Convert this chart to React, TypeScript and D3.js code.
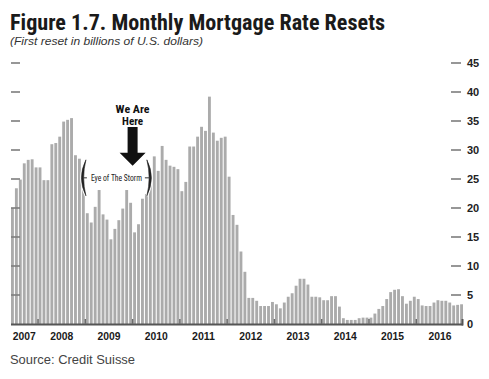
import React from 'react';
import * as d3 from 'd3';

// ---- Data (billions of U.S. dollars, first reset per month) ----
const years = ['2007', '2008', '2009', '2010', '2011', '2012', '2013', '2014', '2015', '2016'];
const v2007 = [20.0, 23.4, 24.9, 27.7, 28.3, 28.4, 27.0]; // Jun–Dec
const v2008 = [27.0, 24.8, 24.8, 31.0, 31.2, 32.3, 34.9, 35.2, 35.5, 29.1, 28.5, 24.0];
const v2009 = [19.1, 17.5, 20.2, 23.1, 18.9, 18.0, 14.6, 16.4, 17.9, 19.9, 23.1, 20.9];
const v2010 = [15.8, 17.2, 21.6, 22.4, 25.0, 28.9, 26.4, 30.7, 28.3, 27.3, 27.1, 26.7];
const v2011 = [22.9, 24.5, 30.6, 30.6, 32.3, 34.0, 33.3, 39.2, 33.0, 31.6, 32.1, 32.3];
const v2012 = [25.4, 18.8, 17.1, 12.5, 9.0, 4.5, 4.5, 4.0, 3.1, 3.1, 3.1, 3.8];
const v2013 = [3.4, 2.7, 3.7, 4.7, 5.3, 6.6, 7.8, 7.8, 6.8, 4.7, 4.7, 4.6];
const v2014 = [4.1, 4.1, 4.8, 4.8, 3.0, 1.0, 0.7, 0.7, 0.7, 1.0, 1.1, 1.1];
const v2015 = [1.1, 1.8, 2.6, 3.1, 4.3, 5.5, 5.9, 6.0, 4.8, 3.5, 4.0, 4.7];
const v2016 = [4.3, 3.2, 3.1, 3.1, 3.7, 4.1, 4.0, 4.0, 3.7, 3.2, 3.3, 3.4];
const yTicks = [0, 5, 10, 15, 20, 25, 30, 35, 40, 45];

const TITLE = 'Figure 1.7. Monthly Mortgage Rate Resets';
const SUBTITLE = '(First reset in billions of U.S. dollars)';
const SOURCE = 'Source: Credit Suisse';

const yearSeries = [v2007, v2008, v2009, v2010, v2011, v2012, v2013, v2014, v2015, v2016];

type Bar = { key: string; year: string; value: number; idx: number };
const bars: Bar[] = [];
yearSeries.forEach((arr, yi) => {
  arr.forEach((v, mi) => {
    bars.push({ key: `${years[yi]}-${mi}`, year: years[yi], value: v, idx: bars.length });
  });
});

const W = 489;
const H = 379;
const X0 = 11;
const X1 = 463;
const Y0 = 324;
const Y1 = 63;

const COND = '"Liberation Sans Narrow", "Roboto Condensed", "Liberation Sans", Arial, sans-serif';
const SANS = '"Liberation Sans", Arial, Helvetica, sans-serif';

export default function App() {
  const x = d3
    .scaleBand<string>()
    .domain(bars.map((b) => b.key))
    .range([X0, X1])
    .paddingInner(0.27)
    .paddingOuter(0);
  const y = d3.scaleLinear().domain([0, 45]).range([Y0, Y1]);
  const step = x.step();
  const gap = step - x.bandwidth();

  // year boundaries and label positions
  const yearInfo = years.map((yr) => {
    const ys = bars.filter((b) => b.year === yr);
    const start = (x(ys[0].key) as number) - gap / 2;
    const end = (x(ys[ys.length - 1].key) as number) + x.bandwidth() + gap / 2;
    return { yr, start, end, center: (start + end) / 2 };
  });

  // Annotation anchors derived from scales
  const arrowX = yearInfo[3].start;
  const arrowTip = y(27.3);
  const eyeLeft = (x(bars[18].key) as number) + 1;
  const eyeRight = (x(bars[35].key) as number) + 1;
  const eyeMid = (eyeLeft + eyeRight) / 2;
  const eyeY = y(25.2);
  const bh = 18; // half bracket height

  const bracketL = (bx: number) =>
    `M${bx + 3},${eyeY - bh} Q${bx - 6},${eyeY} ${bx + 3},${eyeY + bh} Q${bx - 1.5},${eyeY} ${bx + 3},${eyeY - bh} Z`;
  const bracketR = (bx: number) =>
    `M${bx - 3},${eyeY - bh} Q${bx + 6},${eyeY} ${bx - 3},${eyeY + bh} Q${bx + 1.5},${eyeY} ${bx - 3},${eyeY - bh} Z`;

  return (
    <svg
      width={W}
      height={H}
      viewBox={`0 0 ${W} ${H}`}
      style={{ position: 'absolute', left: 0, top: 0, display: 'block', background: '#fff' }}
    >
      <rect x={0} y={0} width={W} height={H} fill="#fff" />
      {/* Title */}
      <text
        x={10}
        y={29.5}
        fontFamily={COND}
        fontWeight="bold"
        fontSize={21.5}
        fill="#1a1a1a"
        textLength={375}
        lengthAdjust="spacingAndGlyphs"
      >
        {TITLE}
      </text>
      <text
        x={10}
        y={44.5}
        fontFamily={SANS}
        fontStyle="italic"
        fontSize={10.5}
        fill="#333"
        textLength={193}
        lengthAdjust="spacingAndGlyphs"
      >
        {SUBTITLE}
      </text>

      {/* Bars */}
      {bars.map((b) => (
        <rect
          key={b.key}
          x={x(b.key)}
          y={y(b.value)}
          width={x.bandwidth()}
          height={Y0 - y(b.value)}
          fill="#ababab"
        />
      ))}

      {/* Left dashes */}
      {yTicks
        .filter((t) => t > 0)
        .map((t) => (
          <line key={`l${t}`} x1={11} x2={20} y1={y(t)} y2={y(t)} stroke="#7d7d7d" strokeWidth={1.6} />
        ))}
      {/* Right dashes and labels */}
      {yTicks
        .filter((t) => t > 0)
        .map((t) => (
          <line key={`r${t}`} x1={451} x2={461} y1={y(t)} y2={y(t)} stroke="#7d7d7d" strokeWidth={1.6} />
        ))}
      {yTicks.map((t) => (
        <text
          key={`rt${t}`}
          x={467}
          y={y(t)}
          dy="0.36em"
          fontFamily={SANS}
          fontWeight="bold"
          fontSize={11}
          fill="#222"
        >
          {t}
        </text>
      ))}

      {/* X axis */}
      <line x1={X0} x2={X1} y1={Y0 + 0.5} y2={Y0 + 0.5} stroke="#555" strokeWidth={2} />
      <line x1={X1 - 0.5} x2={X1 - 0.5} y1={Y0 - 5} y2={Y0 + 1.5} stroke="#555" strokeWidth={2} />
      {yearInfo.slice(1).map((yi) => (
        <line
          key={`yt${yi.yr}`}
          x1={yi.start}
          x2={yi.start}
          y1={Y0 - 5}
          y2={Y0}
          stroke="#6b6b6b"
          strokeWidth={1.5}
        />
      ))}
      {yearInfo.map((yi, i) => {
        const w = 23;
        const cx = i === 0 ? Math.max(yi.center, X0 + w / 2) : yi.center;
        return (
          <text
            key={`yl${yi.yr}`}
            x={cx - w / 2}
            y={340}
            fontFamily={SANS}
            fontWeight="bold"
            fontSize={11}
            fill="#1a1a1a"
            textLength={w}
            lengthAdjust="spacingAndGlyphs"
          >
            {yi.yr}
          </text>
        );
      })}

      {/* Source */}
      <text
        x={10}
        y={364}
        fontFamily={SANS}
        fontSize={13}
        fill="#444"
        textLength={125}
        lengthAdjust="spacingAndGlyphs"
      >
        {SOURCE}
      </text>

      {/* We Are Here */}
      <text
        x={arrowX - 17}
        y={112.5}
        fontFamily={COND}
        fontWeight="bold"
        fontSize={11}
        fill="#111"
        textLength={34}
        lengthAdjust="spacingAndGlyphs"
      >
        We Are
      </text>
      <text
        x={arrowX - 10.5}
        y={125}
        fontFamily={COND}
        fontWeight="bold"
        fontSize={11}
        fill="#111"
        textLength={21}
        lengthAdjust="spacingAndGlyphs"
      >
        Here
      </text>
      <path
        d={`M${arrowX - 5},127 L${arrowX + 5},127 L${arrowX + 5},${arrowTip - 13} L${arrowX + 13},${arrowTip - 13} L${arrowX},${arrowTip} L${arrowX - 13},${arrowTip - 13} L${arrowX - 5},${arrowTip - 13} Z`}
        fill="#111"
      />

      {/* Eye of The Storm */}
      <path d={bracketL(eyeLeft)} fill="#fff" stroke="#fff" strokeWidth={2.5} />
      <path d={bracketR(eyeRight)} fill="#fff" stroke="#fff" strokeWidth={2.5} />
      <path d={bracketL(eyeLeft)} fill="#222" stroke="#222" strokeWidth={0.6} />
      <path d={bracketR(eyeRight)} fill="#222" stroke="#222" strokeWidth={0.6} />
      <line x1={eyeLeft} x2={eyeLeft + 4} y1={eyeY} y2={eyeY} stroke="#333" strokeWidth={1} />
      <line x1={eyeRight - 5} x2={eyeRight} y1={eyeY} y2={eyeY} stroke="#333" strokeWidth={1} />
      <text
        x={eyeMid}
        y={eyeY + 3.3}
        textAnchor="middle"
        fontFamily={COND}
        fontSize={9.5}
        fill="#222"
        textLength={51}
        lengthAdjust="spacingAndGlyphs"
      >
        Eye of The Storm
      </text>
    </svg>
  );
}
